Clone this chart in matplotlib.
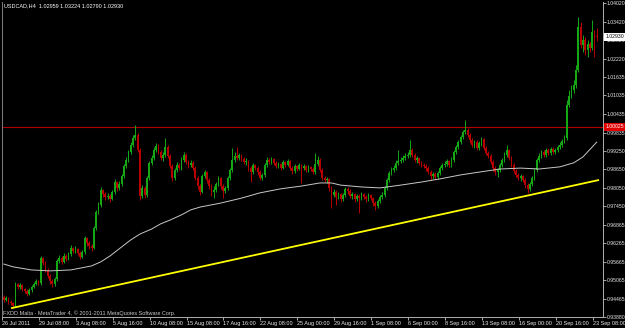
import matplotlib
matplotlib.use("Agg")
import matplotlib.pyplot as plt
import numpy as np

# ── Data: USDCAD H4, 26 Jul - 23 Sep 2011 ───────────────────────────────────
first_open = 0.9453

closes = [
    0.9443, 0.9449, 0.9437, 0.9433, 0.9424, 0.9495, 0.9485, 0.9491, 0.9479, 0.9472,
    0.9462, 0.9475, 0.9485, 0.9495, 0.9504, 0.9498, 0.9579, 0.9563, 0.9540, 0.9521,
    0.9504, 0.9495, 0.9511, 0.9569, 0.9579, 0.9566, 0.9585, 0.9575, 0.9592, 0.9611,
    0.9601, 0.9608, 0.9595, 0.9582, 0.9598, 0.9643, 0.9627, 0.9617, 0.9611, 0.9676,
    0.9727, 0.9750, 0.9798, 0.9785, 0.9776, 0.9779, 0.9769, 0.9792, 0.9824, 0.9805,
    0.9818, 0.9844, 0.9876, 0.9895, 0.9921, 0.9944, 0.9966, 0.9976, 0.9928, 0.9779,
    0.9805, 0.9782, 0.9837, 0.9886, 0.9902, 0.9928, 0.9940, 0.9921, 0.9902, 0.9911,
    0.9937, 0.9908, 0.9876, 0.9837, 0.9863, 0.9879, 0.9869, 0.9895, 0.9911, 0.9889,
    0.9879, 0.9886, 0.9869, 0.9837, 0.9811, 0.9792, 0.9844, 0.9856, 0.9831, 0.9811,
    0.9792, 0.9798, 0.9818, 0.9837, 0.9811, 0.9795, 0.9805, 0.9837, 0.9863, 0.9895,
    0.9908, 0.9902, 0.9911, 0.9898, 0.9889, 0.9892, 0.9869, 0.9856, 0.9879, 0.9869,
    0.9856, 0.9837, 0.9847, 0.9879, 0.9895, 0.9889, 0.9898, 0.9886, 0.9876, 0.9882,
    0.9869, 0.9889, 0.9879, 0.9892, 0.9869, 0.9860, 0.9876, 0.9866, 0.9879, 0.9869,
    0.9876, 0.9863, 0.9873, 0.9866, 0.9856, 0.9882, 0.9895, 0.9863, 0.9837, 0.9831,
    0.9834, 0.9805, 0.9782, 0.9792, 0.9776, 0.9785, 0.9769, 0.9782, 0.9802, 0.9795,
    0.9779, 0.9785, 0.9769, 0.9779, 0.9772, 0.9785, 0.9776, 0.9769, 0.9782, 0.9772,
    0.9756, 0.9747, 0.9763, 0.9776, 0.9782, 0.9805, 0.9831, 0.9853, 0.9863, 0.9869,
    0.9886, 0.9892, 0.9895, 0.9902, 0.9908, 0.9911, 0.9928, 0.9911, 0.9895, 0.9902,
    0.9886, 0.9879, 0.9876, 0.9869, 0.9856, 0.9844, 0.9850, 0.9840, 0.9853, 0.9869,
    0.9879, 0.9882, 0.9892, 0.9879, 0.9895, 0.9921, 0.9937, 0.9953, 0.9970, 0.9986,
    0.9992, 0.9976, 0.9960, 0.9944, 0.9953, 0.9934, 0.9950, 0.9963, 0.9934, 0.9918,
    0.9908, 0.9889, 0.9869, 0.9856, 0.9863, 0.9879, 0.9895, 0.9911, 0.9928, 0.9902,
    0.9879, 0.9860, 0.9847, 0.9837, 0.9844, 0.9831, 0.9814, 0.9802, 0.9818, 0.9837,
    0.9863, 0.9895, 0.9908, 0.9921, 0.9911, 0.9928, 0.9918, 0.9931, 0.9921, 0.9928,
    0.9937, 0.9944, 0.9957, 0.9966, 1.0073, 1.0102, 1.0121, 1.0137, 1.0186, 1.0325,
    1.0267, 1.0283, 1.0251, 1.0270, 1.0257, 1.0309, 1.0296, 1.0293,
]

highs = [
    0.9459, 0.9456, 0.9453, 0.9443, 0.9437, 0.9501, 0.9498, 0.9498, 0.9495, 0.9482,
    0.9479, 0.9482, 0.9491, 0.9501, 0.9511, 0.9508, 0.9585, 0.9582, 0.9569, 0.9546,
    0.9527, 0.9511, 0.9517, 0.9575, 0.9588, 0.9585, 0.9595, 0.9592, 0.9598, 0.9621,
    0.9614, 0.9617, 0.9611, 0.9601, 0.9605, 0.9650, 0.9646, 0.9634, 0.9624, 0.9682,
    0.9734, 0.9760, 0.9808, 0.9802, 0.9792, 0.9789, 0.9785, 0.9798, 0.9834, 0.9827,
    0.9827, 0.9850, 0.9882, 0.9905, 0.9928, 0.9953, 0.9976, 1.0008, 0.9982, 0.9934,
    0.9814, 0.9811, 0.9844, 0.9892, 0.9911, 0.9937, 0.9950, 0.9947, 0.9928, 0.9921,
    0.9966, 0.9944, 0.9915, 0.9882, 0.9869, 0.9889, 0.9886, 0.9905, 0.9921, 0.9918,
    0.9895, 0.9895, 0.9892, 0.9876, 0.9844, 0.9818, 0.9850, 0.9863, 0.9860, 0.9837,
    0.9818, 0.9811, 0.9824, 0.9844, 0.9840, 0.9818, 0.9811, 0.9844, 0.9869, 0.9934,
    0.9921, 0.9937, 0.9918, 0.9915, 0.9905, 0.9902, 0.9895, 0.9876, 0.9886, 0.9882,
    0.9876, 0.9863, 0.9853, 0.9886, 0.9905, 0.9902, 0.9905, 0.9902, 0.9892, 0.9889,
    0.9886, 0.9895, 0.9892, 0.9898, 0.9895, 0.9876, 0.9882, 0.9879, 0.9886, 0.9882,
    0.9882, 0.9879, 0.9879, 0.9876, 0.9873, 0.9918, 0.9908, 0.9902, 0.9869, 0.9844,
    0.9840, 0.9837, 0.9811, 0.9802, 0.9798, 0.9792, 0.9789, 0.9789, 0.9808, 0.9808,
    0.9802, 0.9792, 0.9789, 0.9785, 0.9785, 0.9792, 0.9789, 0.9782, 0.9789, 0.9785,
    0.9776, 0.9763, 0.9769, 0.9782, 0.9792, 0.9811, 0.9837, 0.9860, 0.9873, 0.9879,
    0.9895, 0.9928, 0.9905, 0.9911, 0.9918, 0.9921, 0.9960, 0.9934, 0.9918, 0.9908,
    0.9905, 0.9892, 0.9886, 0.9882, 0.9876, 0.9863, 0.9856, 0.9856, 0.9860, 0.9876,
    0.9886, 0.9892, 0.9898, 0.9895, 0.9905, 0.9928, 0.9944, 0.9960, 0.9976, 0.9992,
    1.0024, 0.9999, 0.9982, 0.9966, 0.9960, 0.9960, 0.9957, 0.9970, 0.9966, 0.9940,
    0.9924, 0.9915, 0.9895, 0.9876, 0.9869, 0.9886, 0.9902, 0.9921, 0.9944, 0.9931,
    0.9908, 0.9886, 0.9866, 0.9853, 0.9850, 0.9847, 0.9837, 0.9821, 0.9824, 0.9844,
    0.9869, 0.9902, 0.9918, 0.9928, 0.9928, 0.9934, 0.9934, 0.9937, 0.9937, 0.9934,
    0.9944, 0.9953, 0.9963, 0.9976, 1.0089, 1.0121, 1.0137, 1.0154, 1.0202, 1.0357,
    1.0341, 1.0299, 1.0293, 1.0283, 1.0276, 1.0347, 1.0315, 1.0322,
]

lows = [
    0.9437, 0.9440, 0.9430, 0.9427, 0.9417, 0.9420, 0.9479, 0.9479, 0.9472, 0.9466,
    0.9456, 0.9459, 0.9469, 0.9482, 0.9491, 0.9491, 0.9491, 0.9556, 0.9533, 0.9514,
    0.9495, 0.9485, 0.9488, 0.9504, 0.9563, 0.9559, 0.9563, 0.9569, 0.9572, 0.9585,
    0.9595, 0.9595, 0.9588, 0.9575, 0.9579, 0.9592, 0.9617, 0.9608, 0.9601, 0.9608,
    0.9669, 0.9721, 0.9743, 0.9776, 0.9766, 0.9769, 0.9760, 0.9766, 0.9785, 0.9795,
    0.9798, 0.9811, 0.9837, 0.9869, 0.9889, 0.9915, 0.9937, 0.9960, 0.9921, 0.9766,
    0.9772, 0.9772, 0.9776, 0.9831, 0.9879, 0.9895, 0.9921, 0.9915, 0.9895, 0.9892,
    0.9905, 0.9902, 0.9869, 0.9827, 0.9831, 0.9856, 0.9863, 0.9863, 0.9889, 0.9882,
    0.9869, 0.9873, 0.9863, 0.9831, 0.9802, 0.9782, 0.9789, 0.9837, 0.9821, 0.9802,
    0.9779, 0.9772, 0.9792, 0.9811, 0.9802, 0.9772, 0.9789, 0.9798, 0.9831, 0.9856,
    0.9889, 0.9895, 0.9895, 0.9892, 0.9882, 0.9879, 0.9860, 0.9824, 0.9850, 0.9863,
    0.9847, 0.9831, 0.9831, 0.9840, 0.9873, 0.9882, 0.9882, 0.9879, 0.9869, 0.9869,
    0.9863, 0.9866, 0.9873, 0.9876, 0.9863, 0.9850, 0.9853, 0.9860, 0.9863, 0.9821,
    0.9863, 0.9856, 0.9856, 0.9860, 0.9850, 0.9850, 0.9876, 0.9856, 0.9831, 0.9824,
    0.9821, 0.9795, 0.9740, 0.9776, 0.9750, 0.9769, 0.9760, 0.9763, 0.9776, 0.9785,
    0.9772, 0.9769, 0.9760, 0.9763, 0.9724, 0.9766, 0.9769, 0.9760, 0.9763, 0.9766,
    0.9747, 0.9734, 0.9740, 0.9756, 0.9769, 0.9776, 0.9798, 0.9824, 0.9847, 0.9856,
    0.9863, 0.9879, 0.9886, 0.9889, 0.9895, 0.9902, 0.9905, 0.9905, 0.9889, 0.9886,
    0.9879, 0.9873, 0.9869, 0.9860, 0.9850, 0.9831, 0.9834, 0.9834, 0.9834, 0.9847,
    0.9863, 0.9873, 0.9876, 0.9873, 0.9873, 0.9889, 0.9915, 0.9931, 0.9947, 0.9963,
    0.9979, 0.9970, 0.9950, 0.9937, 0.9934, 0.9928, 0.9928, 0.9940, 0.9928, 0.9911,
    0.9902, 0.9882, 0.9860, 0.9847, 0.9840, 0.9856, 0.9873, 0.9889, 0.9905, 0.9895,
    0.9873, 0.9853, 0.9840, 0.9831, 0.9827, 0.9824, 0.9805, 0.9789, 0.9795, 0.9811,
    0.9831, 0.9856, 0.9889, 0.9902, 0.9905, 0.9905, 0.9911, 0.9911, 0.9915, 0.9915,
    0.9921, 0.9931, 0.9937, 0.9950, 0.9960, 1.0066, 1.0095, 1.0112, 1.0128, 1.0179,
    1.0257, 1.0244, 1.0234, 1.0228, 1.0244, 1.0251, 1.0228, 1.0279,
]

# moving average (white line), sampled along the bars
ma_bars = [0, 4, 12, 20, 29, 38, 42, 46, 51, 55, 59, 64, 68, 72, 77, 81, 85, 94,
           103, 111, 120, 129, 137, 142, 146, 155, 163, 172, 181, 189, 198, 206,
           215, 224, 232, 241, 247, 251, 255, 257]
ma_values = [0.9559, 0.9550, 0.9540, 0.9537, 0.9540, 0.9553, 0.9566, 0.9585, 0.9614,
             0.9637, 0.9656, 0.9672, 0.9689, 0.9701, 0.9718, 0.9734, 0.9743, 0.9756,
             0.9772, 0.9789, 0.9802, 0.9811, 0.9821, 0.9821, 0.9814, 0.9808, 0.9805,
             0.9814, 0.9824, 0.9834, 0.9847, 0.9856, 0.9866, 0.9869, 0.9866, 0.9873,
             0.9886, 0.9905, 0.9937, 0.9953]

# user objects: trendline and horizontal level
trend_bars = [3.5, 257.6]
trend_prices = [0.9417, 0.9830]
level_price = 1.00025
last_price = 1.02930

x_ticks = list(range(0, 257, 16))
x_labels = ["26 Jul 2011", "29 Jul 08:00", "3 Aug 08:00", "5 Aug 16:00", "10 Aug 08:00",
            "15 Aug 08:00", "17 Aug 16:00", "22 Aug 08:00", "25 Aug 00:00", "29 Aug 16:00",
            "1 Sep 08:00", "6 Sep 00:00", "8 Sep 16:00", "13 Sep 08:00", "16 Sep 00:00",
            "20 Sep 16:00", "23 Sep 08:00"]
y_ticks = [0.93880, 0.94465, 0.95065, 0.95665, 0.96265, 0.96865, 0.97450, 0.98050,
           0.98650, 0.99250, 0.99835, 1.00435, 1.01035, 1.01635, 1.02220, 1.02820,
           1.03420, 1.04020]

header = "USDCAD,H4  1.02959 1.03224 1.02790 1.02930"
footer = "FXDD Malta - MetaTrader 4, \u00a9 2001-2011 MetaQuotes Software Corp."

# ── Style ───────────────────────────────────────────────────────────────────
BULL, BEAR = "#14A814", "#B80000"
FONT = "Liberation Sans"
FS = 4.0
FS_Y = 3.7
plt.rcParams.update({"font.family": FONT, "font.size": FS})

W, H = 625, 328
fig = plt.figure(figsize=(W / 100, H / 100), dpi=100, facecolor="black")
ax = fig.add_axes([2 / W, 11 / H, 601 / W, 315 / H], facecolor="black")

closes = np.array(closes)
highs = np.array(highs)
lows = np.array(lows)
opens = np.concatenate([[first_open], closes[:-1]])
idx = np.arange(len(closes))
up = closes >= opens
colors = np.where(up, BULL, BEAR)

ax.vlines(idx, lows, highs, colors=colors, lw=0.7, zorder=3)
ax.bar(idx, np.abs(closes - opens), bottom=np.minimum(opens, closes), width=0.75,
       color=colors, linewidth=0, zorder=4)

ax.plot(ma_bars, ma_values, color="#C8C8C8", lw=0.7, zorder=5)
ax.plot(trend_bars, trend_prices, color="#FFFF00", lw=1.3, zorder=6)
ax.axhline(level_price, color="#B00000", lw=0.8, zorder=2)

ax.set_xlim(-0.43, 259.7)
ax.set_ylim(0.9388, 1.04055)

ax.set_xticks([t - 0.8 for t in x_ticks])
ax.set_xticklabels(x_labels)
for lab in ax.get_xticklabels():
    lab.set_horizontalalignment("left")
ax.yaxis.tick_right()
ax.set_yticks(y_ticks)
ax.set_yticklabels([f"{v:.5f}" for v in y_ticks])
ax.tick_params(axis="both", colors="#C0C0C0", labelcolor="#E8E8E8", length=2.2,
               width=0.6, labelsize=FS, pad=1)
ax.tick_params(axis="y", labelsize=FS_Y, pad=0.5)

for side in ("left", "right", "bottom"):
    ax.spines[side].set_color("#B0B0B0")
    ax.spines[side].set_linewidth(0.7)
ax.spines["left"].set_color("#808080")
ax.spines["top"].set_visible(False)

# price boxes on the right scale
for price, fc, tc in [(level_price, "#E00000", "white"), (last_price, "white", "black")]:
    ax.annotate(f"{price:.5f}", xy=(1, price), xycoords=("axes fraction", "data"),
                xytext=(1.6, 0), textcoords="offset points", va="center", ha="left",
                fontsize=FS_Y, color=tc, zorder=10, annotation_clip=False,
                bbox=dict(boxstyle="square,pad=0.3", fc=fc, ec="none"))

fig.text(4 / W, 1 - 6 / H, header, color="white", fontsize=FS, va="center", ha="left")
fig.text(3 / W, 1 - 313 / H, footer, color="#C8C8C8", fontsize=FS, va="center", ha="left")

fig.savefig("out.png", dpi=100, facecolor="black")
